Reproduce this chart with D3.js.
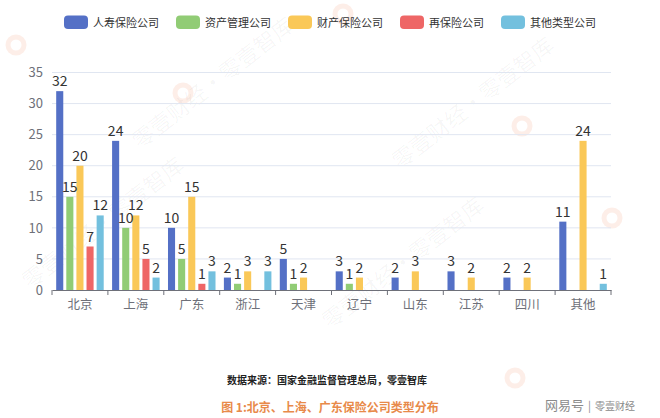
<!DOCTYPE html>
<html><head><meta charset="utf-8">
<script src="https://cdn.jsdelivr.net/npm/d3@7"></script>
<style>
html,body{margin:0;padding:0;background:#fff;}
svg{display:block;font-family:"Noto Sans CJK SC","Noto Sans",sans-serif;}
</style></head>
<body>
<svg id="chart" width="660" height="418"></svg>
<script>
const categories = ["北京","上海","广东","浙江","天津","辽宁","山东","江苏","四川","其他"];
const seriesNames = ["人寿保险公司","资产管理公司","财产保险公司","再保险公司","其他类型公司"];
const seriesColors = ["#5470c6","#91cc75","#fac858","#ee6666","#73c0de"];
const lifeIns     = [32,24,10,2,5,3,2,3,2,11];
const assetMgmt   = [15,10,5,1,1,1,null,null,null,null];
const propertyIns = [20,12,15,3,2,2,3,2,2,24];
const reIns       = [7,5,1,null,null,null,null,null,null,null];
const otherType   = [12,2,3,3,null,null,null,null,null,1];
const yTicks = [0,5,10,15,20,25,30,35];
const seriesValues = [lifeIns, assetMgmt, propertyIns, reIns, otherType];

(function(){
const svg = d3.select("#chart");

// watermarks (kept fully inside the canvas)
const wm = svg.append("g").attr("pointer-events","none");
const wmPos = [[30,290],[330,330],[400,170],[140,150]];
wmPos.forEach(([x,y])=>{
  wm.append("text").attr("transform",`translate(${x},${y}) rotate(-38)`)
    .attr("font-size",22).attr("fill","#000").attr("fill-opacity",0.04)
    .text("零壹财经·零壹智库");
});
[[183,93],[343,14],[522,126],[612,218],[16,45],[515,378]].forEach(([x,y])=>{
  wm.append("circle").attr("cx",x).attr("cy",y).attr("r",8)
    .attr("fill","none").attr("stroke","#f07040").attr("stroke-width",5).attr("stroke-opacity",0.12);
});

const pLeft = 52, pRight = 611, pTop = 72.5, pBottom = 290;
const x0 = d3.scaleBand().domain(categories).range([pLeft,pRight]).padding(0);
const groupW = x0.bandwidth()*0.85;
const x1 = d3.scaleBand().domain(d3.range(seriesNames.length)).range([0,groupW]).paddingInner(0.3).paddingOuter(0);
const y = d3.scaleLinear().domain([0,35]).range([pBottom,pTop]);

// grid
svg.append("g").selectAll("line").data(yTicks.filter(d=>d>0)).join("line")
  .attr("x1",pLeft).attr("x2",pRight).attr("y1",d=>y(d)).attr("y2",d=>y(d))
  .attr("stroke","#e0e6f1").attr("stroke-width",1);

// y axis labels
const yAxis = d3.axisLeft(y).tickValues(yTicks).tickSize(0).tickPadding(9);
const yg = svg.append("g").attr("transform",`translate(${pLeft},0)`).call(yAxis);
yg.select(".domain").remove();
yg.selectAll("text").attr("font-size",13).attr("fill","#6e7079").attr("font-family","'Noto Sans CJK SC',sans-serif");

// bars
const groups = svg.append("g").selectAll("g").data(categories).join("g")
  .attr("transform",d=>`translate(${x0(d)+(x0.bandwidth()-groupW)/2},0)`);
groups.each(function(cat,ci){
  const g = d3.select(this);
  seriesValues.forEach((vals,si)=>{
    const v = vals[ci];
    if(v==null) return;
    g.append("rect").attr("x",x1(si)).attr("width",x1.bandwidth())
      .attr("y",y(v)).attr("height",y(0)-y(v)).attr("fill",seriesColors[si]);
  });
  seriesValues.forEach((vals,si)=>{
    const v = vals[ci];
    if(v==null) return;
    g.append("text").attr("x",x1(si)+x1.bandwidth()/2).attr("y",y(v)-5)
      .attr("text-anchor","middle").attr("font-size",14).attr("fill","#333")
      .text(v);
  });
});

// x axis
const xAxis = d3.axisBottom(x0).tickSize(0).tickPadding(10);
const xg = svg.append("g").attr("transform",`translate(0,${pBottom})`).call(xAxis);
xg.select(".domain").attr("stroke","#6e7079");
xg.selectAll("text").attr("font-size",12.5).attr("fill","#6e7079").attr("font-family","'Noto Sans CJK SC',sans-serif");
const bounds = categories.map(c=>x0(c)).concat([pRight]);
svg.append("g").selectAll("line").data(bounds).join("line")
  .attr("x1",d=>d).attr("x2",d=>d).attr("y1",pBottom).attr("y2",pBottom+5)
  .attr("stroke","#6e7079");

// legend
const legend = svg.append("g");
let lx = 64;
seriesNames.forEach((name,i)=>{
  legend.append("rect").attr("x",lx).attr("y",15.5).attr("width",24).attr("height",13.5)
    .attr("rx",4).attr("fill",seriesColors[i]);
  const t = legend.append("text").attr("x",lx+29).attr("y",26.5)
    .attr("font-size",11).attr("fill","#333").text(name);
  lx += 29 + t.node().getComputedTextLength() + 17;
});

// footer
svg.append("text").attr("x",327).attr("y",384).attr("text-anchor","middle")
  .attr("font-size",10).attr("font-weight","bold").attr("fill","#222")
  .text("数据来源：国家金融监督管理总局，零壹智库");
svg.append("text").attr("x",330).attr("y",412).attr("text-anchor","middle")
  .attr("font-size",12).attr("font-weight","bold").attr("fill","#e88a4a")
  .text("图 1:北京、上海、广东保险公司类型分布");
const brand = svg.append("text").attr("x",545).attr("y",410).attr("fill","#8a8a8a");
brand.append("tspan").attr("font-size",13).text("网易号");
brand.append("tspan").attr("font-size",11).attr("dx",4).text("|");
brand.append("tspan").attr("font-size",10).attr("dx",4).text("零壹财经");
})();
</script>
</body></html>
